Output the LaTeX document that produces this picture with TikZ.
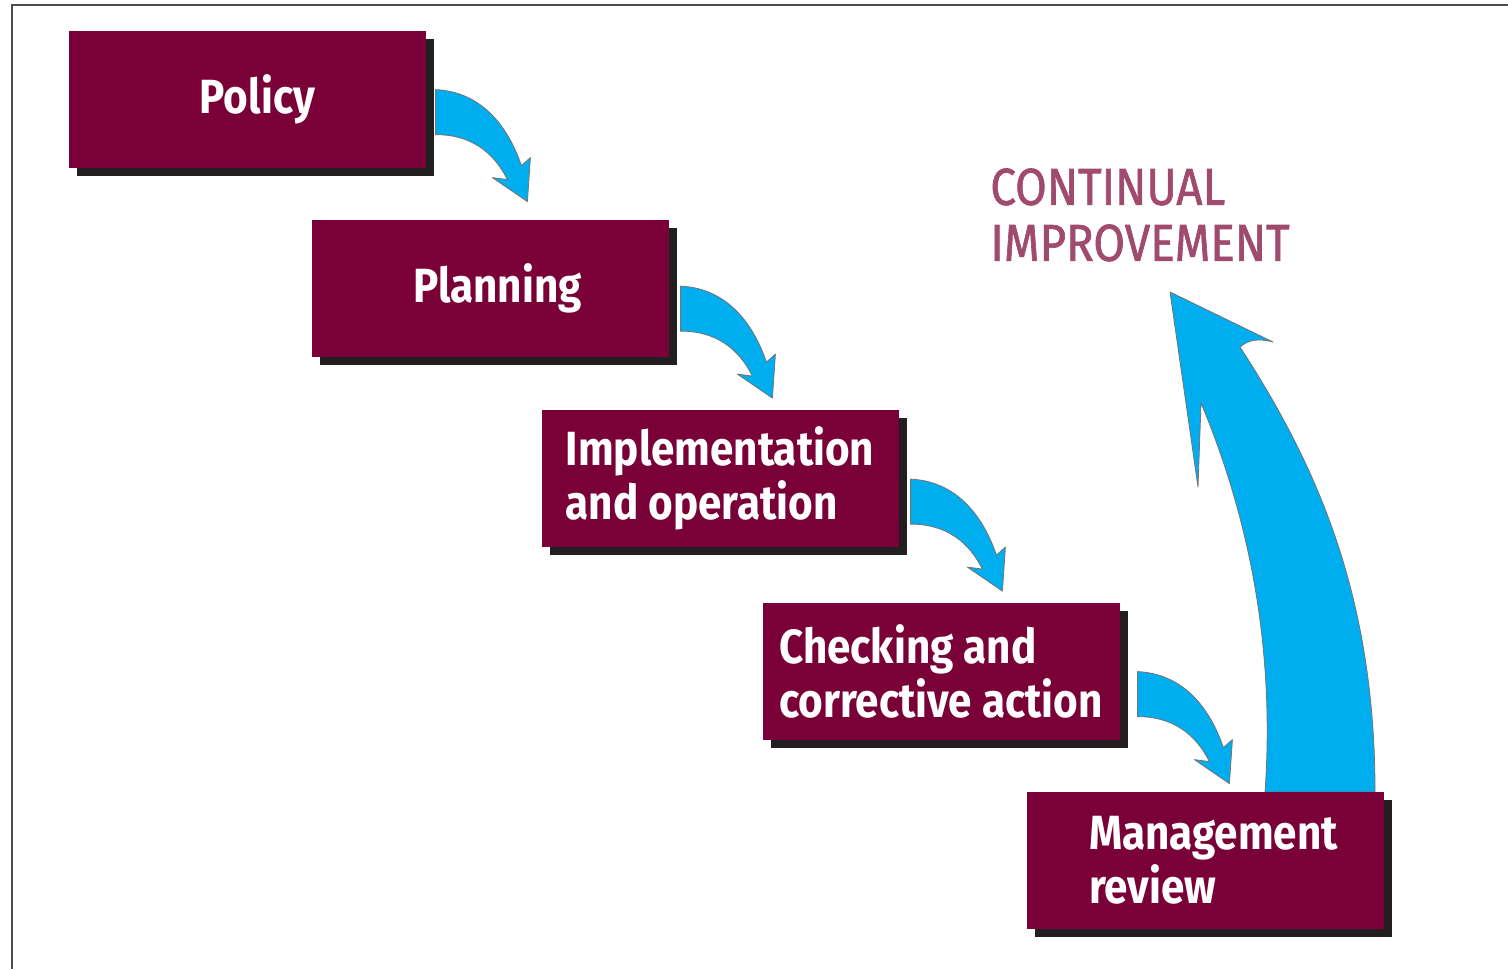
\documentclass[tikz,border=0pt]{standalone}
\usepackage{fontspec}
\usepackage{tikz}
\usepackage{xcolor}
\usetikzlibrary{shadows}
\newfontfamily\boxfont[FakeStretch=0.88]{Fira Sans}
\newfontfamily\headfont[FakeStretch=0.88,FakeBold=1.2]{Fira Sans}
\definecolor{boxred}{HTML}{7A0038}
\definecolor{shade}{HTML}{231F20}
\definecolor{flowblue}{HTML}{00AEEF}
\definecolor{headred}{HTML}{A04A6E}
\newcommand{\stepArrow}[2]{%
	\begin{scope}[shift={(#1.north east)}]
		\draw [bluearrow] #2 .. controls ++(45,2) and ++(-14,-41) .. ++(86,76) -- ++(9,-8)
			-- ++(-3,44) -- ++(-35,-24) -- ++(15,2)
			.. controls ++(-14,-28) and ++(35,0) .. ++(-72,-45) -- cycle;
	\end{scope}}
\begin{document}
\begin{tikzpicture}[x=0.5pt,y=-0.5pt,
		stepbox/.style={fill=boxred,text=white,minimum width=178.5pt,minimum height=68.5pt,
			inner sep=0pt,align=left,font={\boxfont\bfseries\fontsize{24}{27}\selectfont},
			drop shadow={shadow xshift=4pt,shadow yshift=-4pt,fill=shade,opacity=1}},
		bluearrow/.style={fill=flowblue,draw=black!55,line width=0.4pt,line join=round}]
	\useasboundingbox (0,0) rectangle (1508,969);
	\draw [black!70,line width=1.3pt] (12,969) -- (12,5) -- (1508,5);
	\draw [bluearrow] (1265,792) .. controls (1275,650) and (1250,520) .. (1201,403)
		-- (1198,487) -- (1170,292) -- (1273,342) .. controls (1258,338) and (1248,340) .. (1240,347)
		.. controls (1320,470) and (1375,600) .. (1375,792) -- cycle;
	\node [stepbox] (pol) at (247.5,99.5) {\hspace*{10pt}Policy};
	\node [stepbox] (plan) at (490.5,288) {\hspace*{7pt}Planning};
	\node [stepbox] (impl) at (720,478) {Implementation\\and operation};
	\node [stepbox] (check) at (941,671) {Checking and\\corrective action};
	\node [stepbox] (review) at (1205.5,860) {\hspace*{8pt}Management\\\hspace*{8pt}review};
	\stepArrow{pol}{(9,59)}
	\stepArrow{plan}{(11,67)}
	\stepArrow{impl}{(11.5,70)}
	\stepArrow{check}{(17.5,69.5)}
	\node [anchor=north west,inner sep=0pt,align=left,text=headred,
		font={\headfont\fontsize{26}{28}\selectfont}] (cont) at (990,168) {CONTINUAL\\IMPROVEMENT};
\end{tikzpicture}
\end{document}
